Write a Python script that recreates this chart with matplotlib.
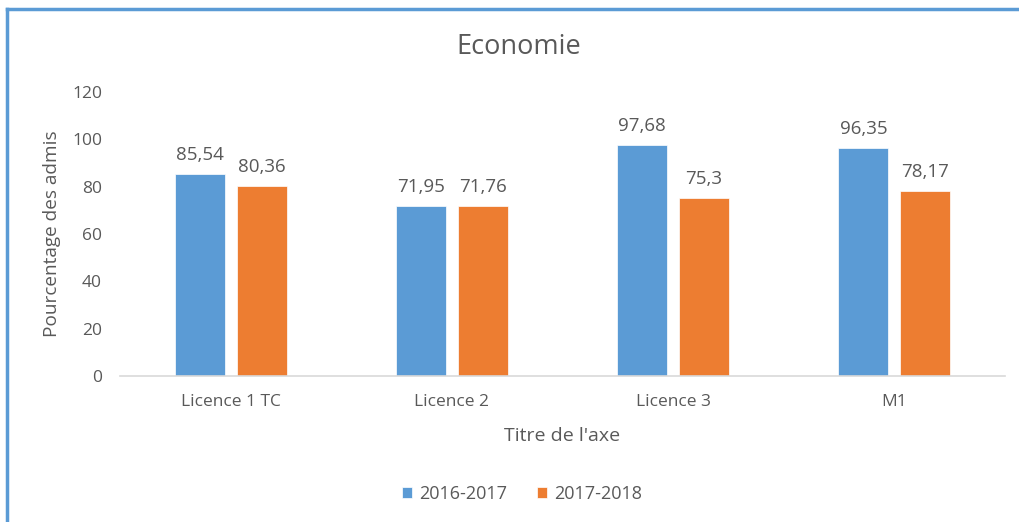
import numpy as np
import matplotlib
matplotlib.use("Agg")
import matplotlib.pyplot as plt
from matplotlib.lines import Line2D

# data
categories = ["Licence 1 TC", "Licence 2", "Licence 3", "M1"]
series_names = ["2016-2017", "2017-2018"]
vals_2016 = [85.54, 71.95, 97.68, 96.35]
vals_2017 = [80.36, 71.76, 75.3, 78.17]
label_2016 = ["85,54", "71,95", "97,68", "96,35"]
label_2017 = ["80,36", "71,76", "75,3", "78,17"]

blue = "#5B9BD5"
orange = "#ED7D31"
grey = "#595959"

plt.rcParams["font.family"] = ["Open Sans", "DejaVu Sans"]

fig = plt.figure(figsize=(10.2, 5.22), dpi=100)
ax = fig.add_axes([120 / 1020, 1 - 376 / 522, 885 / 1020, 284 / 522])

x = np.arange(len(categories))
w = 0.226
off = 0.14
b1 = ax.bar(x - off, vals_2016, w, color=blue, label=series_names[0], edgecolor="white", linewidth=0.5)
b2 = ax.bar(x + off, vals_2017, w, color=orange, label=series_names[1], edgecolor="white", linewidth=0.5)
ax.bar_label(b1, labels=label_2016, padding=7, fontsize=13.5, color=grey)
ax.bar_label(b2, labels=label_2017, padding=7, fontsize=13.5, color=grey)

ax.set_xlim(-0.5, len(categories) - 0.5)
ax.set_ylim(0, 120)
ax.set_yticks(range(0, 121, 20))
ax.set_xticks(x)
ax.set_xticklabels(categories)
ax.tick_params(length=0, colors=grey, labelsize=12.5)
ax.tick_params(axis="y", pad=13)
ax.tick_params(axis="x", pad=13)
for s in ["top", "right", "left"]:
    ax.spines[s].set_visible(False)
ax.spines["bottom"].set_color("#d9d9d9")
ax.spines["bottom"].set_linewidth(1.2)

ax.set_ylabel("Pourcentage des admis", fontsize=13.7, color=grey)
ax.yaxis.set_label_coords((52 - 120) / 885, 0.5)
ax.set_xlabel("Titre de l'axe", fontsize=14, color=grey)
ax.xaxis.set_label_coords(0.5, -(436 - 376) / 284)
ax.xaxis.label.set_va("center")
ax.yaxis.label.set_va("center")
fig.text(519 / 1020, 1 - 47 / 522, "Economie", ha="center", va="center", fontsize=19.5, color=grey)

fig.legend(loc="center", bbox_to_anchor=(522 / 1020, 1 - 494 / 522), ncol=2, frameon=False,
           fontsize=13, labelcolor=grey, handlelength=0.6, handleheight=0.6, columnspacing=1.6,
           handletextpad=0.4)

# blue frame on top and left
fig.add_artist(Line2D([7 / 1020, 7 / 1020], [0, 1 - 9 / 522], color=blue, lw=2.5, transform=fig.transFigure))
fig.add_artist(Line2D([7 / 1020, 1], [1 - 9 / 522, 1 - 9 / 522], color=blue, lw=2.5, transform=fig.transFigure))

fig.savefig("out.png", dpi=100)
